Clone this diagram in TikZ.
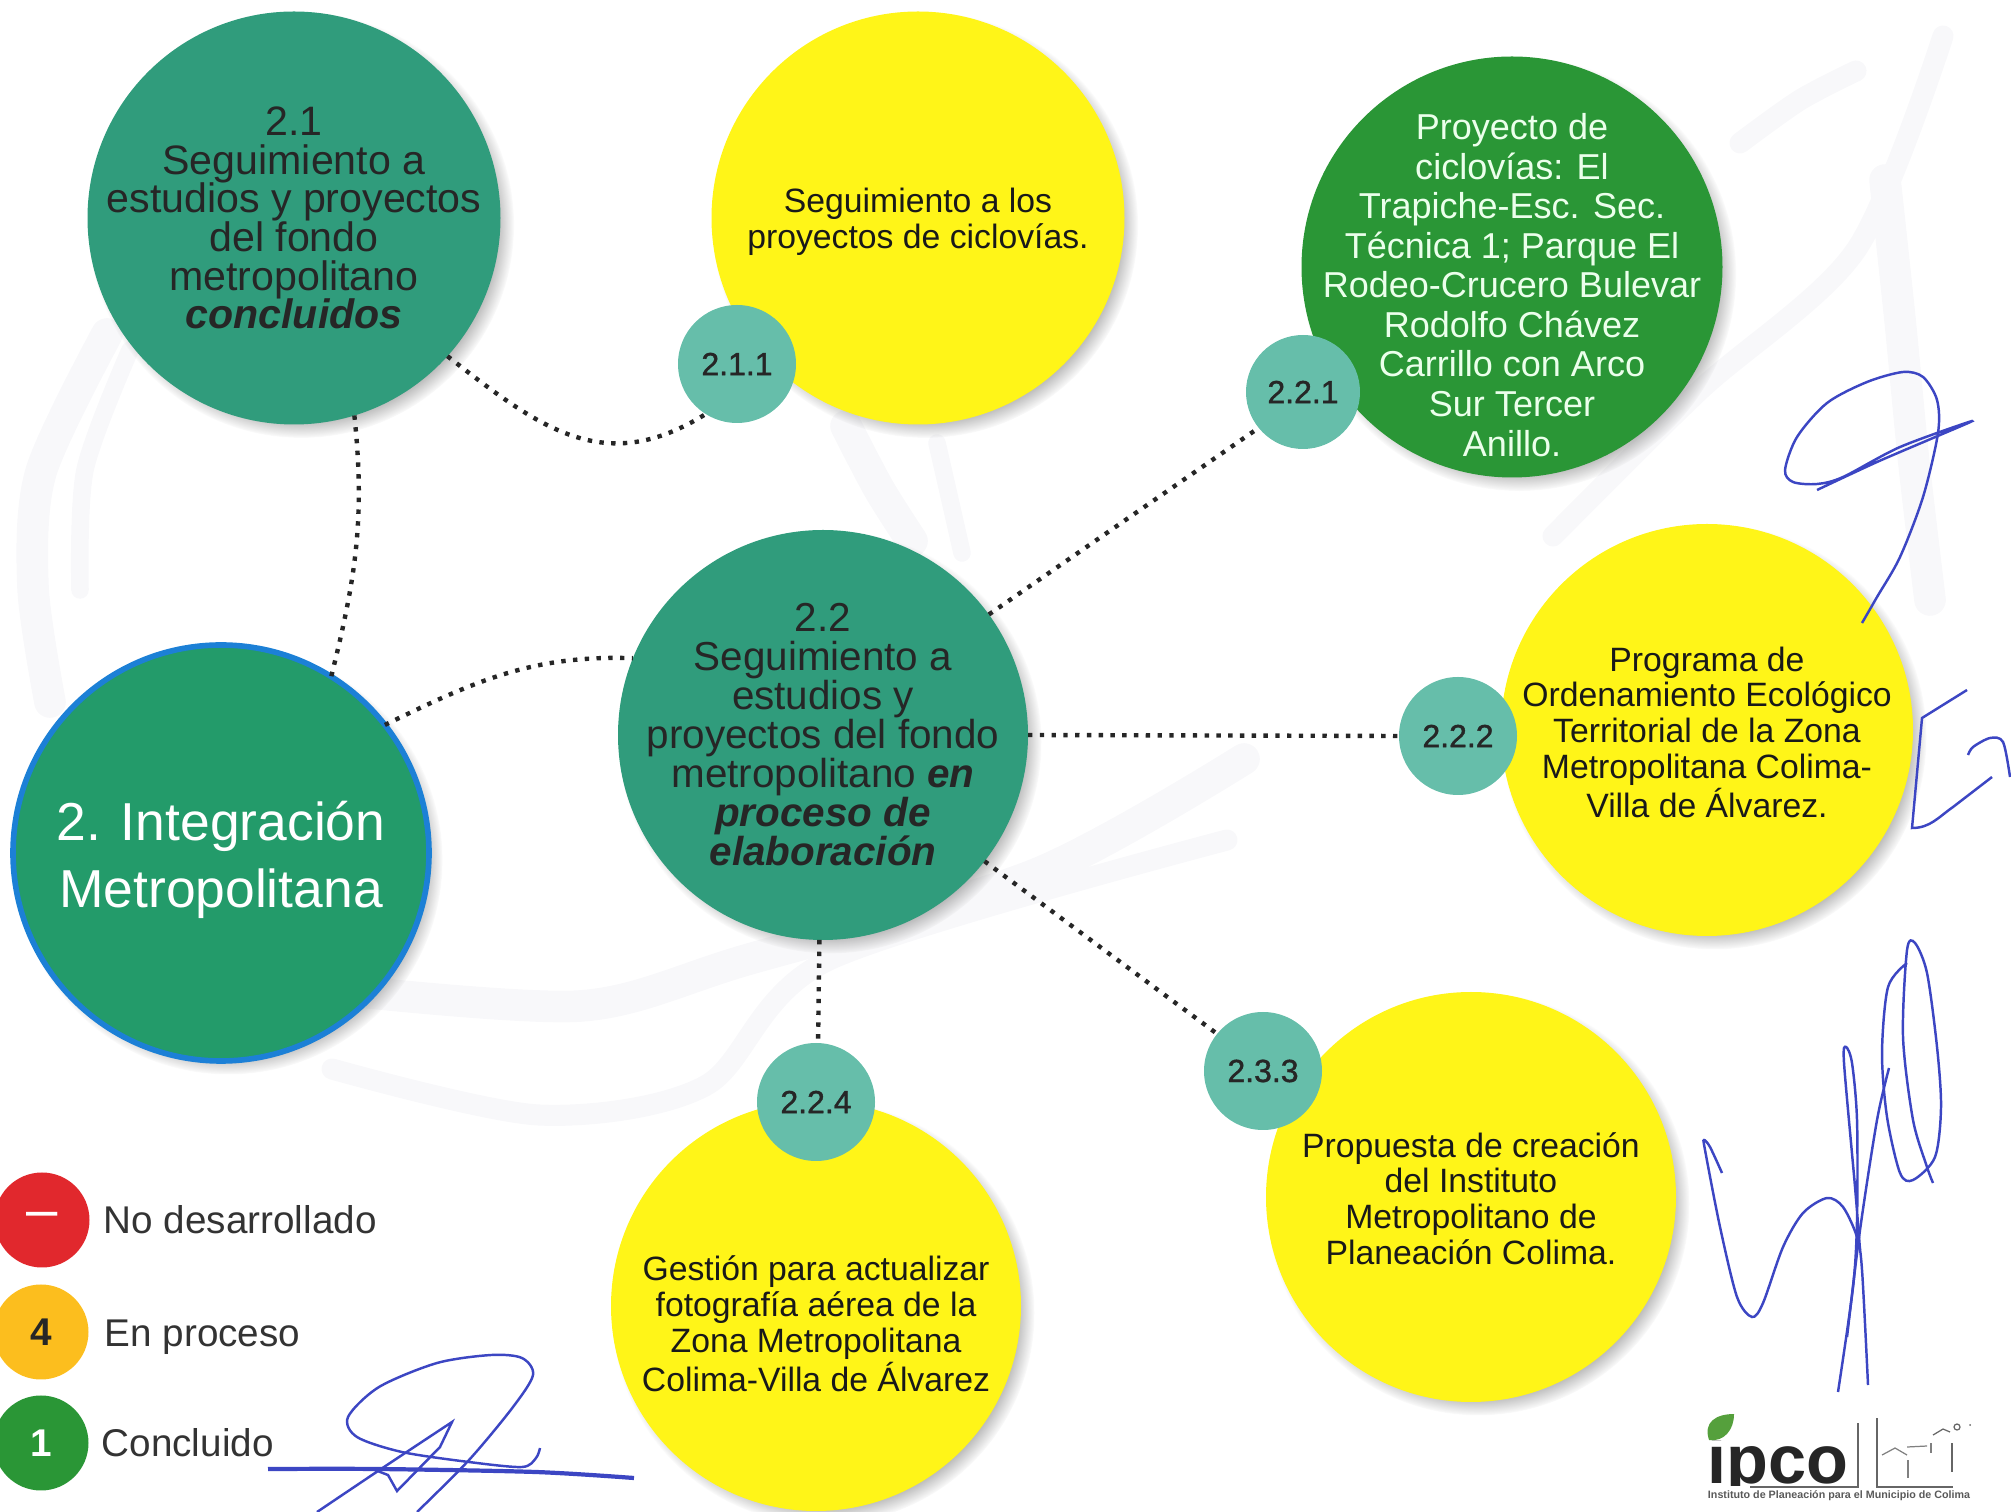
\documentclass[tikz,border=0pt]{standalone}
\usepackage{fontspec}
\setmainfont{Liberation Sans}
\newfontfamily\medfont[FakeBold=1.2]{Liberation Sans}
\usepackage{xcolor}
\usetikzlibrary{shapes,arrows,positioning,shadows,shapes.geometric}
\definecolor{teal}{RGB}{48, 156, 124}
\definecolor{mainteal}{RGB}{35, 155, 106}
\definecolor{ring}{RGB}{28, 128, 214}
\definecolor{done}{RGB}{42, 150, 54}
\definecolor{sun}{RGB}{255, 245, 24}
\definecolor{bubblecol}{RGB}{102, 190, 170}
\definecolor{redleg}{RGB}{225, 40, 45}
\definecolor{orangeleg}{RGB}{252, 190, 30}
\definecolor{pen}{RGB}{60, 70, 195}
\definecolor{leaf}{RGB}{85, 160, 60}
\definecolor{scribble}{RGB}{248, 248, 250}
\tikzstyle{ball} = [
    circle,
    inner sep=0pt,
    outer sep=0pt,
    circular drop shadow={shadow xshift=2pt,shadow yshift=-2pt,shadow scale=1.03,opacity=0.95}
]
\tikzstyle{bubble} = [
    circle,
    inner sep=0pt,
    outer sep=0pt,
    minimum size=1.18cm,
    fill=bubblecol,
    text=black!85,
    font=\medfont\fontsize{9.1}{11}\selectfont
]
\tikzstyle{legdot} = [
    circle,
    inner sep=0pt,
    minimum size=0.95cm
]
\tikzstyle{bigtext} = [
    align=center,
    text=black!85,
    font=\fontsize{11.7}{11}\selectfont
]
\tikzstyle{smalltext} = [
    align=center,
    text=black!90,
    font=\fontsize{9.6}{10.15}\selectfont
]
\tikzstyle{legtext} = [
    anchor=west,
    inner sep=0pt,
    text=black!80,
    font=\fontsize{11}{12}\selectfont
]
\tikzstyle{dots} = [
    black!85,
    line width=1.25pt,
    dash pattern=on 1.25pt off 2.1pt
]
\tikzstyle{sign} = [
    pen,
    line width=0.7pt
]
\begin{document}
\begin{tikzpicture}
    \useasboundingbox (0,0) rectangle (20.11,15.12);

    % Faint marks of the scan
    \begin{scope}[x=0.1mm,y=-0.1mm,yshift=15.12cm,scribble,line cap=round,line width=9pt]
        \draw plot[smooth] coordinates {(107,334) (41,472) (33,587) (50,702)};
        \draw[line width=5pt] plot[smooth] coordinates {(130,350) (85,470) (80,590)};
        \draw plot[smooth] coordinates {(846,426) (879,489) (912,541)};
        \draw[line width=5pt] plot[smooth] coordinates {(937,443) (950,500) (962,553)};
        \draw plot[smooth] coordinates {(332,989) (580,1006) (746,960) (1036,874) (1244,759)};
        \draw[line width=6pt] plot[smooth] coordinates {(332,1069) (539,1115) (705,1086) (829,960) (1227,840)};
        \draw[line width=6pt] plot[smooth] coordinates {(1553,536) (1700,390) (1856,250) (1943,36)};
        \draw plot[smooth] coordinates {(1885,180) (1900,320) (1914,464) (1930,600)};
        \draw[line width=6pt] plot[smooth] coordinates {(1740,143) (1800,100) (1856,71)};
    \end{scope}

    % Main circles
    \node[ball,fill=mainteal,draw=ring,line width=1.6pt,minimum size=4.16cm] (main) at (2.21,6.59) {};
    \node[ball,fill=teal,minimum size=4.13cm] (c21) at (2.94,12.94) {};
    \node[ball,fill=teal,minimum size=4.10cm] (c22) at (8.23,7.77) {};

    % Project circles
    \node[ball,fill=sun,minimum size=4.13cm] (y211) at (9.18,12.94) {};
    \node[ball,fill=done,minimum size=4.21cm] (g221) at (15.12,12.45) {};
    \node[ball,fill=sun,minimum size=4.12cm] (y222) at (17.07,7.82) {};
    \node[ball,fill=sun,minimum size=4.10cm] (y233) at (14.71,3.15) {};
    \node[ball,fill=sun,minimum size=4.10cm] (y224) at (8.16,2.06) {};

    % Number bubbles
    \node[bubble] (b211) at (7.37,11.48) {2.1.1};
    \node[bubble,minimum size=1.14cm] (b221) at (13.03,11.20) {2.2.1};
    \node[bubble] (b222) at (14.58,7.76) {2.2.2};
    \node[bubble] (b233) at (12.63,4.41) {2.3.3};
    \node[bubble] (b224) at (8.16,4.10) {2.2.4};

    % Texts of the circles
    \node[align=center,text=white,font=\fontsize{15.2}{19}\selectfont,yshift=-0.7mm] (tmain) at (main) {2. Integración\\Metropolitana};
    \node[bigtext] (t21) at (c21) {2.1\\Seguimiento a\\estudios y proyectos\\del fondo\\metropolitano\\\textbf{\textit{concluidos}}};
    \node[bigtext,font=\fontsize{11.5}{11.1}\selectfont] (t22) at (c22) {2.2\\Seguimiento a\\estudios y\\proyectos del fondo\\metropolitano \textbf{\textit{en}}\\\textbf{\textit{proceso de}}\\\textbf{\textit{elaboración}}};
    \node[smalltext,yshift=-0.4mm] (t211) at (y211) {Seguimiento a los\\proyectos de ciclovías.};
    \node[bigtext,text=white!92!green,font=\fontsize{10.25}{11.25}\selectfont,yshift=-1.8mm] (t221) at (g221) {Proyecto de\\ciclovías: El\\Trapiche-Esc. Sec.\\Técnica 1; Parque El\\Rodeo-Crucero Bulevar\\Rodolfo Chávez\\Carrillo con Arco\\Sur Tercer\\Anillo.};
    \node[smalltext,yshift=-0.25mm] (t222) at (y222) {Programa de\\Ordenamiento Ecológico\\Territorial de la Zona\\Metropolitana Colima-\\Villa de Álvarez.};
    \node[smalltext,yshift=-0.15mm] (t233) at (y233) {Propuesta de creación\\del Instituto\\Metropolitano de\\Planeación Colima.};
    \node[smalltext,yshift=-1.8mm] (t224) at (y224) {Gestión para actualizar\\fotografía aérea de la\\Zona Metropolitana\\Colima-Villa de Álvarez};

    % Connectors
    \draw[dots] (c21.-42) to[out=-38,in=212,looseness=1.15] (b211.238);
    \draw[dots] (c21.-73) to[out=-84,in=76] (main.58);
    \draw[dots] (main.38) to[out=26,in=178] (c22.158);
    \draw[dots] (c22.36) -- (b221.219);
    \draw[dots] (c22.0) -- (b222.180);
    \draw[dots] (c22.-38) -- (b233.141);
    \draw[dots] (c22.-91) -- (b224.88);

    % Legend
    \node[legdot,fill=redleg,text=white,font=\fontsize{16}{16}\selectfont] (lno) at (0.42,2.92) {\raisebox{-1.6pt}{–}};
    \node[legdot,fill=orangeleg,text=black!85,font=\fontsize{11}{13}\selectfont] (lproc) at (0.41,1.80) {\textbf{4}};
    \node[legdot,fill=done,text=white,font=\fontsize{11}{13}\selectfont] (ldone) at (0.41,0.69) {\textbf{1}};
    \node[legtext] (tno) at (1.03,2.92) {No desarrollado};
    \node[legtext] (tproc) at (1.04,1.75) {En proceso};
    \node[legtext] (tdone) at (1.01,0.69) {Concluido};

    % Signatures and logo, in pixels of the page
    \begin{scope}[x=0.1mm,y=-0.1mm,yshift=15.12cm]
        \draw[sign] plot[smooth] coordinates {(317,1512) (384,1467) (452,1422)} -- (440,1447) -- (397,1491) -- (388,1475) -- (375,1470);
        \draw[sign,line width=1.2pt] plot[smooth] coordinates {(268,1469) (379,1469) (536,1472) (634,1478)};
        \draw[sign] plot[smooth] coordinates {(417,1512) (469,1460) (513,1407) (533,1375) (522,1358) (491,1355) (437,1363) (379,1387) (348,1417) (357,1437) (402,1452) (469,1462) (522,1467) (536,1458) (540,1448)};

        \draw[sign] plot[smooth] coordinates {(1862,623) (1877,597) (1900,557) (1923,497) (1938,433) (1937,400) (1923,377) (1903,372) (1867,382) (1827,403) (1797,437) (1785,470) (1793,482) (1817,484) (1843,477) (1900,447) (1972,421) (1933,438) (1877,462) (1817,490)};
        \draw[sign] plot[smooth] coordinates {(1967,690) (1922,718)} -- (1920,740) -- (1912,828) to[out=0,in=215] (1953,807) -- (1992,777);
        \draw[sign] plot[smooth] coordinates {(1968,755) (1973,747) (1990,738) (2003,742) (2010,777)};

        \draw[sign] plot[smooth] coordinates {(1722,1173) (1710,1147) (1704,1140) (1705,1150) (1720,1227) (1737,1297) (1752,1317) (1763,1303) (1783,1247) (1803,1213) (1827,1198) (1843,1207) (1857,1237) (1862,1270) (1868,1385)};
        \draw[sign] plot[smooth] coordinates {(1838,1392) (1853,1287) (1857,1220) (1857,1120) (1852,1063) (1846,1047) (1844,1063) (1855,1187) (1860,1250)};
        \draw[sign] plot[smooth] coordinates {(1847,1337) (1860,1230) (1877,1120) (1889,1068)};
        \draw[sign] plot[smooth] coordinates {(1933,1183) (1927,1167) (1913,1120) (1903,1037) (1907,950) (1915,943) (1927,973) (1937,1047) (1941,1107) (1935,1157) (1913,1180) (1900,1173) (1887,1117) (1882,1053) (1888,987) (1907,963)};

        % Logo
        \begin{scope}
            \clip (1700,1440) rectangle (1860,1485);
            \node[anchor=base,inner sep=0pt,text=black!85,font=\fontsize{19.5}{20}\bfseries\selectfont] (ipco) at (1778,1483) {ipco};
        \end{scope}
        \fill[leaf] (1709,1440) .. controls (1703,1422) and (1716,1414) .. (1734,1414) .. controls (1734,1430) and (1724,1442) .. (1709,1440) -- cycle;
        \node[inner sep=0pt,text=black!65,font=\fontsize{3.05}{4}\bfseries\selectfont] (inst) at (1839,1496) {Instituto de Planeación para el Municipio de Colima};
        \draw[black!60,line width=0.5pt] (1750,1487) -- (1858,1487) -- (1858,1423);
        \draw[black!60,line width=0.5pt] (1877,1418) -- (1877,1487) -- (1953,1487);
        \draw[black!50,line width=0.35pt] (1882,1455) -- (1895,1448) -- (1907,1455);
        \draw[black!50,line width=0.35pt] (1908,1460) -- (1908,1478);
        \draw[black!50,line width=0.35pt] (1907,1447) -- (1927,1446);
        \draw[black!50,line width=0.35pt] (1931,1443) -- (1931,1453);
        \draw[black!60,line width=0.35pt] (1933,1435) -- (1943,1429) -- (1950,1432);
        \draw[black!60,line width=0.35pt] (1957,1427) circle (3);
        \draw[black!60,line width=0.5pt] (1952,1443) -- (1952,1472);
        \fill[black!60] (1970,1425) circle (1);
    \end{scope}
\end{tikzpicture}
\end{document}
